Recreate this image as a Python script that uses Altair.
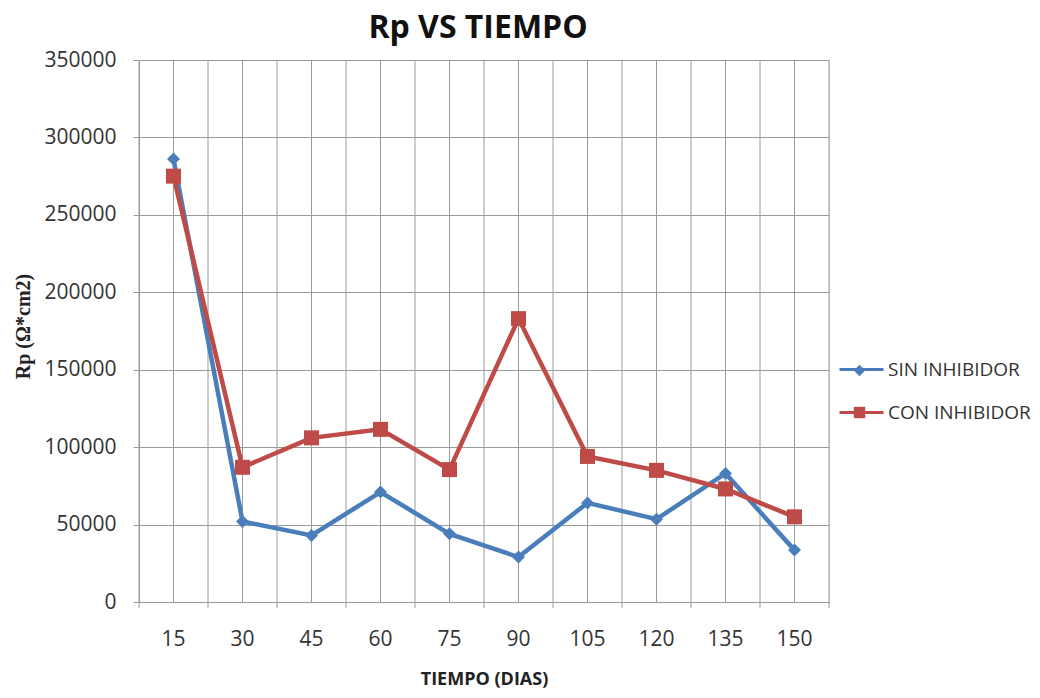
import altair as alt
import pandas as pd

tiempo = [15, 30, 45, 60, 75, 90, 105, 120, 135, 150]
sin_inhibidor = [286000, 52000, 43000, 71000, 44000, 29000, 64000, 53500, 83000, 33500]
con_inhibidor = [275000, 87000, 106000, 111500, 85500, 183000, 94000, 85000, 73000, 55000]
series = ["SIN INHIBIDOR", "CON INHIBIDOR"]
markers_key = ["SIN", "CON"]
colors = ["#4A7EBB", "#BE4B48"]
shapes = ["diamond", "square"]
y_ticks = [0, 50000, 100000, 150000, 200000, 250000, 300000, 350000]
x_grid = [7.5 + 7.5 * i for i in range(21)]
x_bounds = [7.5 + 15 * i for i in range(11)]

rows = []
for t, a, b in zip(tiempo, sin_inhibidor, con_inhibidor):
    rows.append({"tiempo": t, "rp": a, "serie": markers_key[0], "linea": series[0]})
    rows.append({"tiempo": t, "rp": b, "serie": markers_key[1], "linea": series[1]})
df = pd.DataFrame(rows)
grid_df = pd.DataFrame({"tiempo": x_grid})
ticks_df = pd.DataFrame({"tiempo": x_bounds})
labels_df = pd.DataFrame({"tiempo": tiempo, "lab": [str(t) for t in tiempo]})

W, H = 690, 542
FONT = "Open Sans"
GRID = "#9a9a9a"

x_axis = alt.Axis(
    labels=False,
    ticks=False,
    grid=False,
    domainColor=GRID,
    title="TIEMPO (DIAS)",
    titleFont=FONT,
    titleFontSize=18,
    titleFontWeight="bold",
    titleColor="#222222",
    titleX=W / 2,
    titleY=77,
    titleBaseline="middle",
)
x_scale = alt.Scale(domain=[7.5, 157.5], nice=False, zero=False)


def xenc():
    return alt.X("tiempo:Q", scale=x_scale, axis=x_axis)


y_enc = alt.Y(
    "rp:Q",
    scale=alt.Scale(domain=[0, 350000], nice=False),
    axis=alt.Axis(
        values=y_ticks,
        format="d",
        grid=True,
        gridColor=GRID,
        gridOpacity=1,
        domainColor=GRID,
        tickColor=GRID,
        tickSize=6,
        labelFont=FONT,
        labelFontSize=21,
        labelColor="#333333",
        labelPadding=17,
        title="Rp (Ω*cm2)",
        titleFont="Liberation Serif",
        titleFontSize=20,
        titleFontWeight="bold",
        titleColor="#222222",
        titleX=-116,
        titleY=266,
        titleAngle=-90,
        titleBaseline="middle",
        labelFlush=False,
    ),
)

stroke_enc = alt.Stroke(
    "linea:N",
    scale=alt.Scale(domain=series, range=colors),
    legend=alt.Legend(
        orient="none",
        legendX=699,
        legendY=286,
        title=None,
        symbolType="stroke",
        symbolSize=1936,
        symbolStrokeWidth=3,
        labelFont=FONT,
        labelFontSize=19,
        labelColor="#333333",
        labelOffset=3,
        rowPadding=9,
        padding=0,
    ),
)
point_legend = alt.Legend(
    orient="none",
    legendX=711,
    legendY=301,
    title=None,
    symbolSize=130,
    symbolStrokeWidth=0,
    symbolOpacity=1,
    labelFont=FONT,
    labelFontSize=19,
    labelColor="transparent",
    labelOffset=5,
    rowPadding=22,
    padding=0,
)
fill_enc = alt.Fill("serie:N", scale=alt.Scale(domain=markers_key, range=colors), legend=point_legend)
shape_enc = alt.Shape("serie:N", scale=alt.Scale(domain=markers_key, range=shapes), legend=point_legend)

grid = alt.Chart(grid_df).mark_rule(color=GRID, strokeWidth=1).encode(
    x=xenc(), y=alt.value(0), y2=alt.value(H)
)
ticks = alt.Chart(ticks_df).mark_rule(color=GRID, strokeWidth=1).encode(
    x=xenc(), y=alt.value(H), y2=alt.value(H + 6)
)
xlabels = alt.Chart(labels_df).mark_text(
    font=FONT, fontSize=21, color="#333333", baseline="middle", align="center"
).encode(x=xenc(), y=alt.value(H + 38), text="lab:N")

base = alt.Chart(df)
layers = [grid, ticks, xlabels]
for k, sz in zip(markers_key, [169, 225]):
    sub = base.transform_filter(alt.datum.serie == k)
    layers.append(sub.mark_line(strokeWidth=4.5).encode(x=xenc(), y=y_enc, stroke=stroke_enc))
    layers.append(
        sub.mark_point(filled=True, size=sz, opacity=1, strokeWidth=0).encode(
            x=xenc(), y=y_enc, fill=fill_enc, shape=shape_enc
        )
    )

chart = (
    alt.layer(*layers)
    .properties(
        width=W,
        height=H,
        autosize=alt.AutoSizeParams(type="none"),
        padding={"left": 131, "top": 52, "right": 202, "bottom": 88},
        title=alt.Title(
            "Rp VS TIEMPO",
            font=FONT,
            fontSize=32,
            fontWeight="bold",
            color="#111111",
            anchor="middle",
            frame="group",
            offset=4,
            dx=-6,
        ),
    )
    .configure_view(stroke=None)
    .configure(background="white")
)

chart.save("out.html", embed_options={"renderer": "svg", "actions": False})
